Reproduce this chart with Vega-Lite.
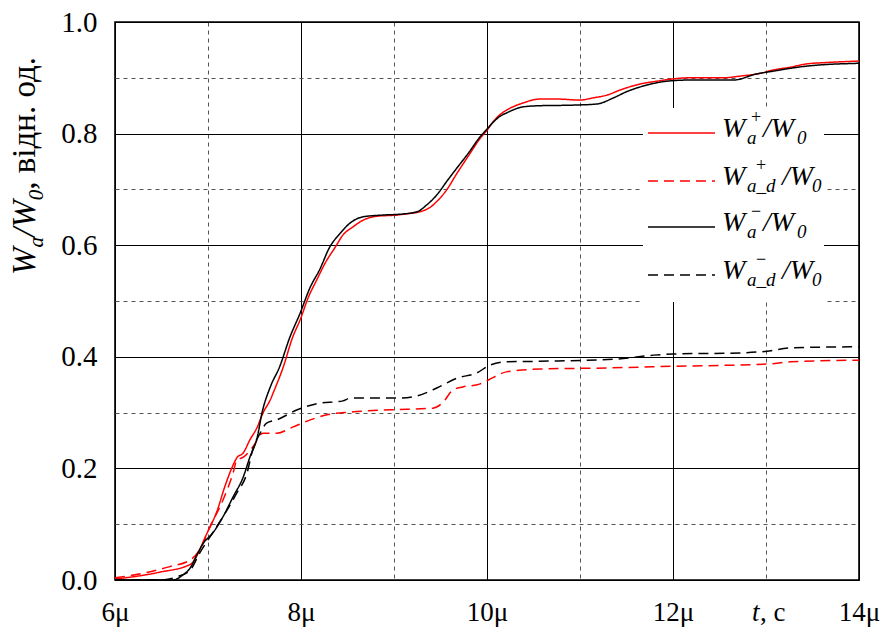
{
  "$schema": "https://vega.github.io/schema/vega-lite/v6.json",
  "width": 744,
  "height": 558,
  "autosize": {"type": "none"},
  "padding": {"left": 115, "top": 22, "right": 28, "bottom": 51},
  "background": "white",
  "config": {
    "view": {"stroke": "black", "strokeWidth": 1.6},
    "font": "Liberation Serif, Times New Roman, serif"
  },
  "datasets": {
    "curves": [
      {"s": "ap", "t": 6.00, "v": 0.002}, {"s": "ap", "t": 6.16, "v": 0.005}, {"s": "ap", "t": 6.48, "v": 0.014},
      {"s": "ap", "t": 6.81, "v": 0.028}, {"s": "ap", "t": 6.99, "v": 0.084}, {"s": "ap", "t": 7.10, "v": 0.125},
      {"s": "ap", "t": 7.18, "v": 0.167}, {"s": "ap", "t": 7.27, "v": 0.206}, {"s": "ap", "t": 7.31, "v": 0.219},
      {"s": "ap", "t": 7.38, "v": 0.228}, {"s": "ap", "t": 7.45, "v": 0.251}, {"s": "ap", "t": 7.53, "v": 0.274},
      {"s": "ap", "t": 7.59, "v": 0.299}, {"s": "ap", "t": 7.67, "v": 0.323}, {"s": "ap", "t": 7.70, "v": 0.335},
      {"s": "ap", "t": 7.81, "v": 0.382}, {"s": "ap", "t": 7.91, "v": 0.435}, {"s": "ap", "t": 7.99, "v": 0.466},
      {"s": "ap", "t": 8.08, "v": 0.507}, {"s": "ap", "t": 8.17, "v": 0.538}, {"s": "ap", "t": 8.26, "v": 0.568},
      {"s": "ap", "t": 8.37, "v": 0.597}, {"s": "ap", "t": 8.45, "v": 0.618}, {"s": "ap", "t": 8.56, "v": 0.633},
      {"s": "ap", "t": 8.67, "v": 0.645}, {"s": "ap", "t": 8.82, "v": 0.652}, {"s": "ap", "t": 9.03, "v": 0.654},
      {"s": "ap", "t": 9.17, "v": 0.657}, {"s": "ap", "t": 9.28, "v": 0.660}, {"s": "ap", "t": 9.39, "v": 0.668},
      {"s": "ap", "t": 9.47, "v": 0.680}, {"s": "ap", "t": 9.57, "v": 0.700}, {"s": "ap", "t": 9.67, "v": 0.727},
      {"s": "ap", "t": 9.80, "v": 0.760}, {"s": "ap", "t": 9.92, "v": 0.790}, {"s": "ap", "t": 10.00, "v": 0.806},
      {"s": "ap", "t": 10.07, "v": 0.822}, {"s": "ap", "t": 10.14, "v": 0.834},
      {"s": "ap", "t": 10.21, "v": 0.842}, {"s": "ap", "t": 10.39, "v": 0.855}, {"s": "ap", "t": 10.57, "v": 0.862},
      {"s": "ap", "t": 10.75, "v": 0.862}, {"s": "ap", "t": 11.00, "v": 0.860}, {"s": "ap", "t": 11.14, "v": 0.864},
      {"s": "ap", "t": 11.29, "v": 0.869}, {"s": "ap", "t": 11.43, "v": 0.878}, {"s": "ap", "t": 11.65, "v": 0.889},
      {"s": "ap", "t": 11.83, "v": 0.894}, {"s": "ap", "t": 12.00, "v": 0.898}, {"s": "ap", "t": 12.18, "v": 0.900},
      {"s": "ap", "t": 12.54, "v": 0.900}, {"s": "ap", "t": 12.72, "v": 0.903}, {"s": "ap", "t": 12.94, "v": 0.908},
      {"s": "ap", "t": 13.08, "v": 0.914}, {"s": "ap", "t": 13.26, "v": 0.919}, {"s": "ap", "t": 13.44, "v": 0.925},
      {"s": "ap", "t": 13.61, "v": 0.927}, {"s": "ap", "t": 14.00, "v": 0.930},

      {"s": "adp", "t": 6.00, "v": 0.004}, {"s": "adp", "t": 6.30, "v": 0.012}, {"s": "adp", "t": 6.59, "v": 0.024},
      {"s": "adp", "t": 6.81, "v": 0.036}, {"s": "adp", "t": 6.91, "v": 0.054}, {"s": "adp", "t": 7.02, "v": 0.095},
      {"s": "adp", "t": 7.16, "v": 0.143}, {"s": "adp", "t": 7.27, "v": 0.192}, {"s": "adp", "t": 7.31, "v": 0.215},
      {"s": "adp", "t": 7.38, "v": 0.220}, {"s": "adp", "t": 7.48, "v": 0.238}, {"s": "adp", "t": 7.59, "v": 0.263},
      {"s": "adp", "t": 7.74, "v": 0.263}, {"s": "adp", "t": 7.91, "v": 0.274}, {"s": "adp", "t": 8.10, "v": 0.287},
      {"s": "adp", "t": 8.28, "v": 0.296}, {"s": "adp", "t": 8.53, "v": 0.301}, {"s": "adp", "t": 8.96, "v": 0.305},
      {"s": "adp", "t": 9.42, "v": 0.308}, {"s": "adp", "t": 9.53, "v": 0.319}, {"s": "adp", "t": 9.63, "v": 0.340},
      {"s": "adp", "t": 9.74, "v": 0.346}, {"s": "adp", "t": 9.92, "v": 0.351}, {"s": "adp", "t": 10.01, "v": 0.358},
      {"s": "adp", "t": 10.21, "v": 0.373}, {"s": "adp", "t": 10.57, "v": 0.378}, {"s": "adp", "t": 11.29, "v": 0.380},
      {"s": "adp", "t": 12.00, "v": 0.383}, {"s": "adp", "t": 13.01, "v": 0.387}, {"s": "adp", "t": 13.26, "v": 0.391},
      {"s": "adp", "t": 14.00, "v": 0.394},

      {"s": "am", "t": 6.00, "v": 0.000}, {"s": "am", "t": 6.62, "v": 0.000}, {"s": "am", "t": 6.73, "v": 0.009},
      {"s": "am", "t": 6.81, "v": 0.022}, {"s": "am", "t": 6.88, "v": 0.045}, {"s": "am", "t": 6.95, "v": 0.066},
      {"s": "am", "t": 7.05, "v": 0.084}, {"s": "am", "t": 7.16, "v": 0.113}, {"s": "am", "t": 7.27, "v": 0.149},
      {"s": "am", "t": 7.38, "v": 0.185}, {"s": "am", "t": 7.45, "v": 0.220}, {"s": "am", "t": 7.53, "v": 0.256},
      {"s": "am", "t": 7.58, "v": 0.299}, {"s": "am", "t": 7.67, "v": 0.346}, {"s": "am", "t": 7.77, "v": 0.382},
      {"s": "am", "t": 7.88, "v": 0.435}, {"s": "am", "t": 7.99, "v": 0.478}, {"s": "am", "t": 8.10, "v": 0.525},
      {"s": "am", "t": 8.20, "v": 0.556}, {"s": "am", "t": 8.31, "v": 0.597}, {"s": "am", "t": 8.42, "v": 0.621},
      {"s": "am", "t": 8.53, "v": 0.640}, {"s": "am", "t": 8.67, "v": 0.651}, {"s": "am", "t": 8.88, "v": 0.654},
      {"s": "am", "t": 9.10, "v": 0.656}, {"s": "am", "t": 9.25, "v": 0.660}, {"s": "am", "t": 9.35, "v": 0.672},
      {"s": "am", "t": 9.46, "v": 0.690}, {"s": "am", "t": 9.57, "v": 0.715}, {"s": "am", "t": 9.67, "v": 0.737},
      {"s": "am", "t": 9.80, "v": 0.765}, {"s": "am", "t": 9.92, "v": 0.793}, {"s": "am", "t": 10.00, "v": 0.808},
      {"s": "am", "t": 10.07, "v": 0.821}, {"s": "am", "t": 10.14, "v": 0.831}, {"s": "am", "t": 10.21, "v": 0.837},
      {"s": "am", "t": 10.39, "v": 0.848}, {"s": "am", "t": 10.57, "v": 0.850}, {"s": "am", "t": 10.92, "v": 0.851},
      {"s": "am", "t": 11.18, "v": 0.853}, {"s": "am", "t": 11.36, "v": 0.864}, {"s": "am", "t": 11.50, "v": 0.875},
      {"s": "am", "t": 11.72, "v": 0.887}, {"s": "am", "t": 11.94, "v": 0.894}, {"s": "am", "t": 12.18, "v": 0.896},
      {"s": "am", "t": 12.65, "v": 0.896}, {"s": "am", "t": 12.90, "v": 0.907}, {"s": "am", "t": 13.08, "v": 0.912},
      {"s": "am", "t": 13.26, "v": 0.917}, {"s": "am", "t": 13.44, "v": 0.921}, {"s": "am", "t": 14.00, "v": 0.926},

      {"s": "adm", "t": 6.00, "v": 0.000}, {"s": "adm", "t": 6.48, "v": 0.000}, {"s": "adm", "t": 6.67, "v": 0.006},
      {"s": "adm", "t": 6.81, "v": 0.018}, {"s": "adm", "t": 6.91, "v": 0.048}, {"s": "adm", "t": 7.02, "v": 0.077},
      {"s": "adm", "t": 7.16, "v": 0.113}, {"s": "adm", "t": 7.31, "v": 0.156}, {"s": "adm", "t": 7.42, "v": 0.192},
      {"s": "adm", "t": 7.48, "v": 0.233}, {"s": "adm", "t": 7.56, "v": 0.263}, {"s": "adm", "t": 7.63, "v": 0.281},
      {"s": "adm", "t": 7.74, "v": 0.287}, {"s": "adm", "t": 7.96, "v": 0.305}, {"s": "adm", "t": 8.17, "v": 0.316},
      {"s": "adm", "t": 8.45, "v": 0.321}, {"s": "adm", "t": 8.53, "v": 0.326}, {"s": "adm", "t": 9.06, "v": 0.326},
      {"s": "adm", "t": 9.25, "v": 0.330}, {"s": "adm", "t": 9.46, "v": 0.344}, {"s": "adm", "t": 9.68, "v": 0.362},
      {"s": "adm", "t": 9.89, "v": 0.371}, {"s": "adm", "t": 10.03, "v": 0.385}, {"s": "adm", "t": 10.21, "v": 0.391},
      {"s": "adm", "t": 10.57, "v": 0.392}, {"s": "adm", "t": 11.40, "v": 0.396}, {"s": "adm", "t": 11.79, "v": 0.403},
      {"s": "adm", "t": 12.00, "v": 0.405}, {"s": "adm", "t": 12.72, "v": 0.407}, {"s": "adm", "t": 13.01, "v": 0.410},
      {"s": "adm", "t": 13.26, "v": 0.416}, {"s": "adm", "t": 14.00, "v": 0.418}
    ],
    "legendBox": [
      {"t": 11.677, "t2": 13.624, "v": 0.846, "v2": 0.498}
    ],
    "legendLines": [
      {"s": "ap", "t": 11.731, "t2": 12.452, "v": 0.8011},
      {"s": "adp", "t": 11.731, "t2": 12.452, "v": 0.7151},
      {"s": "am", "t": 11.731, "t2": 12.452, "v": 0.6326},
      {"s": "adm", "t": 11.731, "t2": 12.452, "v": 0.5466}
    ],
    "labels": [
      {"kind": "main", "txt": "W", "t": 12.527, "v": 0.7939},
      {"kind": "sub", "txt": "a", "t": 12.796, "v": 0.7939},
      {"kind": "sup", "txt": "+", "t": 12.839, "v": 0.7939},
      {"kind": "main", "txt": "/W", "t": 12.968, "v": 0.7939},
      {"kind": "sub", "txt": "0", "t": 13.333, "v": 0.7939},

      {"kind": "main", "txt": "W", "t": 12.527, "v": 0.7079},
      {"kind": "sub", "txt": "a_d", "t": 12.796, "v": 0.7079},
      {"kind": "sup", "txt": "+", "t": 12.892, "v": 0.7079},
      {"kind": "main", "txt": "/W", "t": 13.172, "v": 0.7079},
      {"kind": "sub", "txt": "0", "t": 13.495, "v": 0.7079},

      {"kind": "main", "txt": "W", "t": 12.527, "v": 0.6254},
      {"kind": "sub", "txt": "a", "t": 12.796, "v": 0.6254},
      {"kind": "sup", "txt": "−", "t": 12.839, "v": 0.6254},
      {"kind": "main", "txt": "/W", "t": 12.968, "v": 0.6254},
      {"kind": "sub", "txt": "0", "t": 13.333, "v": 0.6254},

      {"kind": "main", "txt": "W", "t": 12.527, "v": 0.5394},
      {"kind": "sub", "txt": "a_d", "t": 12.796, "v": 0.5394},
      {"kind": "sup", "txt": "−", "t": 12.892, "v": 0.5394},
      {"kind": "main", "txt": "/W", "t": 13.172, "v": 0.5394},
      {"kind": "sub", "txt": "0", "t": 13.495, "v": 0.5394},

      {"kind": "ymain", "txt": "W", "t": 5.14, "v": 0.5466},
      {"kind": "ysub", "txt": "a", "t": 5.14, "v": 0.5959},
      {"kind": "ymain", "txt": "/W", "t": 5.14, "v": 0.6147},
      {"kind": "ysub", "txt": "0", "t": 5.14, "v": 0.6804},
      {"kind": "yplain", "txt": ", відн. од.", "t": 5.14, "v": 0.6993},

      {"kind": "xmain", "txt": "t", "t": 12.849, "v": -0.0735},
      {"kind": "xplain", "txt": ", c", "t": 12.935, "v": -0.0735}
    ]
  },
  "layer": [
    {
      "data": {"name": "curves"},
      "mark": {"type": "line", "strokeWidth": 1.5, "interpolate": "monotone"},
      "encoding": {
        "x": {
          "field": "t", "type": "quantitative",
          "scale": {"domain": [6, 14], "nice": false, "zero": false},
          "axis": {
            "title": null,
            "values": [6, 7, 8, 9, 10, 11, 12, 13, 14],
            "domain": false,
            "grid": true,
            "gridColor": {"condition": {"test": "datum.value % 2 === 1", "value": "#555555"}, "value": "black"},
            "gridDash": {"condition": {"test": "datum.value % 2 === 1", "value": [4, 4]}, "value": []},
            "gridWidth": 1,
            "ticks": false,
            "labelExpr": "datum.value % 2 === 0 ? datum.value + 'μ' : ''",
            "labelFont": "Liberation Serif, Times New Roman, serif",
            "labelFontSize": 27,
            "labelColor": "black",
            "labelPadding": 19,
            "labelFlush": false,
            "labelOverlap": false
          }
        },
        "y": {
          "field": "v", "type": "quantitative",
          "scale": {"domain": [0, 1], "nice": false, "zero": false},
          "axis": {
            "title": null,
            "values": [0, 0.1, 0.2, 0.3, 0.4, 0.5, 0.6, 0.7, 0.8, 0.9, 1.0],
            "domain": false,
            "grid": true,
            "gridColor": {"condition": {"test": "round(datum.value * 10) % 2 === 1", "value": "#555555"}, "value": "black"},
            "gridDash": {"condition": {"test": "round(datum.value * 10) % 2 === 1", "value": [4, 4]}, "value": []},
            "gridWidth": 1,
            "ticks": false,
            "labelExpr": "round(datum.value * 10) % 2 === 0 ? format(datum.value, '.1f') : ''",
            "labelFont": "Liberation Serif, Times New Roman, serif",
            "labelFontSize": 29,
            "labelColor": "black",
            "labelPadding": 18,
            "labelFlush": false,
            "labelOverlap": false
          }
        },
        "color": {
          "field": "s", "type": "nominal",
          "scale": {"domain": ["ap", "adp", "am", "adm"], "range": ["#ff0000", "#ff0000", "#000000", "#000000"]},
          "legend": null
        },
        "strokeDash": {
          "field": "s", "type": "nominal",
          "scale": {"domain": ["ap", "adp", "am", "adm"], "range": [[1, 0], [10, 6], [1, 0], [10, 6]]},
          "legend": null
        },
        "order": {"field": "t", "type": "quantitative"}
      }
    },
    {
      "data": {"name": "legendBox"},
      "mark": {"type": "rect", "fill": "white", "stroke": null},
      "encoding": {
        "x": {"field": "t", "type": "quantitative"},
        "x2": {"field": "t2"},
        "y": {"field": "v", "type": "quantitative"},
        "y2": {"field": "v2"}
      }
    },
    {
      "data": {"name": "legendLines"},
      "mark": {"type": "rule", "strokeWidth": 1.5},
      "encoding": {
        "x": {"field": "t", "type": "quantitative"},
        "x2": {"field": "t2"},
        "y": {"field": "v", "type": "quantitative"},
        "color": {"field": "s", "type": "nominal", "legend": null},
        "strokeDash": {"field": "s", "type": "nominal", "legend": null}
      }
    },
    {
      "data": {"name": "labels"},
      "transform": [{"filter": "datum.kind === 'main'"}],
      "mark": {"type": "text", "font": "Liberation Serif, Times New Roman, serif", "fontStyle": "italic", "fontSize": 28, "align": "left", "baseline": "alphabetic", "color": "black"},
      "encoding": {
        "x": {"field": "t", "type": "quantitative"},
        "y": {"field": "v", "type": "quantitative"},
        "text": {"field": "txt"}
      }
    },
    {
      "data": {"name": "labels"},
      "transform": [{"filter": "datum.kind === 'sub'"}],
      "mark": {"type": "text", "font": "Liberation Serif, Times New Roman, serif", "fontStyle": "italic", "fontSize": 19, "align": "left", "baseline": "alphabetic", "dy": 7, "color": "black"},
      "encoding": {
        "x": {"field": "t", "type": "quantitative"},
        "y": {"field": "v", "type": "quantitative"},
        "text": {"field": "txt"}
      }
    },
    {
      "data": {"name": "labels"},
      "transform": [{"filter": "datum.kind === 'sup'"}],
      "mark": {"type": "text", "font": "Liberation Serif, Times New Roman, serif", "fontSize": 18, "align": "left", "baseline": "alphabetic", "dy": -14, "color": "black"},
      "encoding": {
        "x": {"field": "t", "type": "quantitative"},
        "y": {"field": "v", "type": "quantitative"},
        "text": {"field": "txt"}
      }
    },
    {
      "data": {"name": "labels"},
      "transform": [{"filter": "datum.kind === 'ymain'"}],
      "mark": {"type": "text", "font": "Liberation Serif, Times New Roman, serif", "fontStyle": "italic", "fontSize": 33, "angle": 270, "align": "left", "baseline": "alphabetic", "color": "black"},
      "encoding": {
        "x": {"field": "t", "type": "quantitative"},
        "y": {"field": "v", "type": "quantitative"},
        "text": {"field": "txt"}
      }
    },
    {
      "data": {"name": "labels"},
      "transform": [{"filter": "datum.kind === 'ysub'"}],
      "mark": {"type": "text", "font": "Liberation Serif, Times New Roman, serif", "fontStyle": "italic", "fontSize": 21, "angle": 270, "align": "left", "baseline": "alphabetic", "dy": 8, "color": "black"},
      "encoding": {
        "x": {"field": "t", "type": "quantitative"},
        "y": {"field": "v", "type": "quantitative"},
        "text": {"field": "txt"}
      }
    },
    {
      "data": {"name": "labels"},
      "transform": [{"filter": "datum.kind === 'yplain'"}],
      "mark": {"type": "text", "font": "Liberation Serif, Times New Roman, serif", "fontSize": 33, "angle": 270, "align": "left", "baseline": "alphabetic", "color": "black"},
      "encoding": {
        "x": {"field": "t", "type": "quantitative"},
        "y": {"field": "v", "type": "quantitative"},
        "text": {"field": "txt"}
      }
    },
    {
      "data": {"name": "labels"},
      "transform": [{"filter": "datum.kind === 'xmain'"}],
      "mark": {"type": "text", "font": "Liberation Serif, Times New Roman, serif", "fontStyle": "italic", "fontSize": 27, "align": "left", "baseline": "alphabetic", "color": "black"},
      "encoding": {
        "x": {"field": "t", "type": "quantitative"},
        "y": {"field": "v", "type": "quantitative"},
        "text": {"field": "txt"}
      }
    },
    {
      "data": {"name": "labels"},
      "transform": [{"filter": "datum.kind === 'xplain'"}],
      "mark": {"type": "text", "font": "Liberation Serif, Times New Roman, serif", "fontSize": 27, "align": "left", "baseline": "alphabetic", "color": "black"},
      "encoding": {
        "x": {"field": "t", "type": "quantitative"},
        "y": {"field": "v", "type": "quantitative"},
        "text": {"field": "txt"}
      }
    }
  ]
}
